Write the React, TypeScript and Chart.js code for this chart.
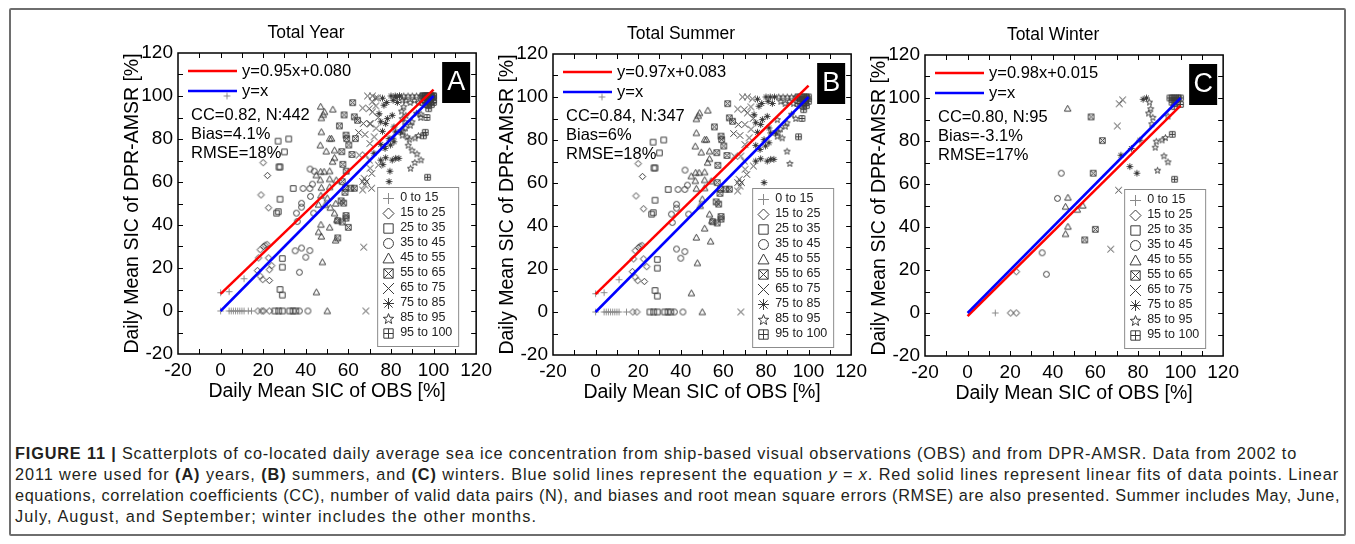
import React, { useEffect, useLayoutEffect, useRef } from "react";
import { Chart, registerables } from "chart.js";

Chart.register(...registerables);

type Pt = [number, number];

// ---------------- DATA ----------------
const categoryLabels = [
  "0 to 15", "15 to 25", "25 to 35", "35 to 45", "45 to 55",
  "55 to 65", "65 to 75", "75 to 85", "85 to 95", "95 to 100",
];
const markerKinds = [
  "plus", "diamond", "square", "circle", "triangle",
  "boxX", "cross", "asterisk", "star", "boxPlus",
];

// Summer (May–Sep) points, by OBS class
const summer0to15: Pt[] = [[0, 0], [4, 0], [5, 0], [6, 0], [7, 0], [8, 0], [9, 0], [10, 0], [11, 0], [14.5, 0], [0, 8.5], [4, 9], [11, 15], [3, 100]];
const summer15to25: Pt[] = [[20, 69], [22, 63], [19, 54], [22.5, 48], [18.6, 28.5], [20.2, 30], [20.9, 30.6], [21.8, 31], [22.5, 24.7], [17.8, 24.7], [17.3, 18.8], [18.6, 16.2], [19.8, 14.6], [22.9, 14.2], [24, 21.1], [17.5, 0], [19.4, 0]];
const summer25to35: Pt[] = [[27, 79], [32, 80], [30, 74], [27.4, 67], [27.9, 67], [34.1, 57], [27.9, 52], [26.3, 45.5], [27.1, 46.2], [29, 24.4], [29, 20.4], [27.9, 10], [29, 7.4], [25.5, 0], [27.3, 0], [29, 0], [32.5, 0], [34, 0], [35.3, 0]];
const summer35to45: Pt[] = [[42, 66], [38.7, 57], [41.9, 57], [43.1, 59], [38, 50.1], [38, 48.3], [35.6, 45.5], [43.7, 45.5], [36, 41.6], [38, 29.3], [41.9, 28.1], [40, 25], [37, 0], [41, 0]];
const summer45to55: Pt[] = [[48.2, 91.3], [47.3, 89.8], [48.8, 92.6], [52.7, 93.8], [47.3, 83.3], [51.2, 80.2], [52.1, 80.2], [46.8, 77.1], [53.5, 74.8], [49.6, 74.3], [53.5, 71.3], [52.6, 69.5], [44.9, 63.2], [47, 64.8], [48.6, 64.8], [51.2, 65.1], [46.8, 61], [51.2, 61.4], [54.3, 60.9], [47.3, 57.4], [51.2, 57.7], [50.1, 52.5], [49.1, 49.4], [53.5, 45.5], [54.6, 42.4], [51.2, 38.9], [47.3, 34.7], [54, 32.9], [47.8, 22.8], [45, 8.8], [50.1, 0]];
const summer55to65: Pt[] = [[62, 96.9], [62.8, 90.3], [64.3, 88.7], [55.8, 86.1], [58.9, 81.8], [59.2, 80.2], [60.2, 77.2], [56.9, 74.1], [61.7, 72.8], [57.4, 68.2], [57.1, 60.2], [58.6, 57.1], [58.4, 55.2], [61.2, 57.1], [62.8, 57.1], [56.6, 51.2], [57.8, 50.2], [58.9, 44.4], [58.9, 43.2], [57.1, 41.4], [55, 42]];
const summer65to75: Pt[] = [[69, 100], [71.3, 100], [73.6, 99.1], [66.7, 94.4], [69.8, 94.1], [72.9, 95.4], [71.3, 92.6], [67, 87.2], [70.1, 87.2], [64.8, 83], [67.8, 82.1], [72.1, 81], [70.1, 77.9], [65.1, 72.5], [68.2, 72.5], [69.8, 70.2], [71, 64], [67.4, 61.7], [66.7, 60.2], [67.8, 58.6], [66.7, 56.3], [70.2, 66.4], [74.1, 67.9], [73, 85], [74, 90], [68.5, 60.2], [68.2, 0]];
const summer75to85: Pt[] = [[75.2, 88], [77.5, 87.2], [74.4, 91.8], [76.7, 95.7], [76, 83.6], [78.3, 89.5], [80.6, 91], [81.4, 85.6], [79.1, 80.2], [75.2, 77.5], [77.2, 75.6], [79.8, 77.2], [75.2, 70.2], [77.5, 71.3], [80.6, 70.2], [82.2, 71], [83.7, 71], [79.1, 60.2], [82.2, 83.3], [84.5, 83.3], [81.4, 78.7], [80, 100], [82, 100], [84, 100], [81, 98], [83, 97], [78, 97], [76, 99]];
const summer85to95: Pt[] = [[85.3, 81.8], [87.6, 81], [86.8, 85.2], [89.1, 86.4], [89.9, 88], [85.7, 83.6], [85.3, 89.5], [89.9, 74.8], [91.2, 69.1], [86, 100], [88, 100], [90, 100], [92, 100], [94, 100], [87, 98], [89, 97], [91, 98], [93, 97], [92, 92], [94, 90]];
const summer95to100: Pt[] = [[95.3, 81.5], [96.9, 90], [97.7, 94.1], [98.4, 97.2], [99.2, 99.5], [95, 100], [96, 100], [97, 100], [98, 100], [99, 100], [100, 100], [96, 98], [98, 98], [100, 98], [97, 96], [99, 96], [95, 97]];

// Winter (other months) points, by OBS class
const winter0to15: Pt[] = [[13, 0]];
const winter15to25: Pt[] = [[20.2, 0], [22.9, 0], [22.9, 19.2]];
const winter25to35: Pt[] = [];
const winter35to45: Pt[] = [[44, 65], [42.2, 53.3], [35, 28], [37, 18]];
const winter45to55: Pt[] = [[47, 95.1], [47.1, 53.7], [46, 49.5], [47.1, 40.2], [46, 36.8], [54.1, 50], [51.5, 48.1]];
const winter55to65: Pt[] = [[58, 91.2], [63.3, 80.2], [59, 65], [60, 38.9], [55, 34]];
const winter65to75: Pt[] = [[71.2, 97.3], [72.8, 99.1], [70.3, 87], [70.9, 57.1], [67.2, 29.7]];
const winter75to85: Pt[] = [[82.4, 99.4], [84, 100], [72, 73.4], [76.9, 76.5], [80.9, 80.4], [76.2, 68.1], [79.5, 65]];
const winter85to95: Pt[] = [[85.4, 98.1], [86, 95], [85, 93], [87, 91], [86.5, 88], [91.3, 80.5], [88.6, 79.9], [92.9, 81.6], [88.1, 77.1], [92.2, 73.1], [94.1, 70.3], [89.2, 66.4], [94.1, 91.6]];
const winter95to100: Pt[] = [[96.1, 83.1], [97.2, 62.2], [95, 100], [96, 100], [97, 100], [98, 100], [99, 100], [100, 100], [96, 98], [98, 98], [100, 97], [97, 96]];

const summerByClass: Pt[][] = [summer0to15, summer15to25, summer25to35, summer35to45, summer45to55, summer55to65, summer65to75, summer75to85, summer85to95, summer95to100];
const winterByClass: Pt[][] = [winter0to15, winter15to25, winter25to35, winter35to45, winter45to55, winter55to65, winter65to75, winter75to85, winter85to95, winter95to100];
const yearByClass: Pt[][] = summerByClass.map((s, i) => [...s, ...winterByClass[i]]);

const panelData: Pt[][][] = [yearByClass, summerByClass, winterByClass];
const panelTitles = ["Total Year", "Total Summer", "Total Winter"];
const panelLetters = ["A", "B", "C"];
const fitSlopes = [0.95, 0.97, 0.98];
const fitIntercepts = [8.0, 8.3, -1.5];
const fitLabels = ["y=0.95x+0.080", "y=0.97x+0.083", "y=0.98x+0.015"];
const ccLabels = ["CC=0.82, N:442", "CC=0.84, N:347", "CC=0.80, N:95"];
const biasLabels = ["Bias=4.1%", "Bias=6%", "Bias=-3.1%"];
const rmseLabels = ["RMSE=18%", "RMSE=18%", "RMSE=17%"];
const axisMin = -20;
const axisMax = 120;
const axisStep = 20;
const minorStep = 10;
const xTitle = "Daily Mean SIC of OBS [%]";
const yTitle = "Daily Mean SIC of DPR-AMSR [%]";

// ---------------- LAYOUT ----------------
const FONT = "'Liberation Sans', Arial, Helvetica, sans-serif";
const PLOT_POS = [
  { left: 178, top: 53 },
  { left: 553, top: 54 },
  { left: 925, top: 55 },
];
const PLOT_SIZE = 301;
const Y_AXIS_W = 60;
const TOP_PAD = 43;
const RIGHT_PAD = 18;
const X_AXIS_H = 52;
const CANVAS_W = Y_AXIS_W + PLOT_SIZE + RIGHT_PAD;
const CANVAS_H = TOP_PAD + PLOT_SIZE + X_AXIS_H;

function makeMarker(kind: string, size: number, color: string, lw: number): HTMLCanvasElement {
  const pad = 2;
  const S = Math.ceil(size + pad * 2);
  const c = document.createElement("canvas");
  c.width = S;
  c.height = S;
  const g = c.getContext("2d")!;
  g.strokeStyle = color;
  g.lineWidth = lw;
  const h = size / 2;
  const cx = S / 2;
  const cy = S / 2;
  const sq = h * 0.85;
  g.beginPath();
  switch (kind) {
    case "plus":
      g.moveTo(cx - h, cy); g.lineTo(cx + h, cy);
      g.moveTo(cx, cy - h); g.lineTo(cx, cy + h);
      break;
    case "diamond":
      g.moveTo(cx, cy - h); g.lineTo(cx + h, cy); g.lineTo(cx, cy + h); g.lineTo(cx - h, cy); g.closePath();
      break;
    case "square":
      g.rect(cx - sq, cy - sq, sq * 2, sq * 2);
      break;
    case "circle":
      g.arc(cx, cy, h * 0.9, 0, Math.PI * 2);
      break;
    case "triangle":
      g.moveTo(cx, cy - h); g.lineTo(cx + h, cy + h * 0.8); g.lineTo(cx - h, cy + h * 0.8); g.closePath();
      break;
    case "boxX":
      g.rect(cx - sq, cy - sq, sq * 2, sq * 2);
      g.moveTo(cx - sq, cy - sq); g.lineTo(cx + sq, cy + sq);
      g.moveTo(cx + sq, cy - sq); g.lineTo(cx - sq, cy + sq);
      break;
    case "cross":
      g.moveTo(cx - h, cy - h); g.lineTo(cx + h, cy + h);
      g.moveTo(cx + h, cy - h); g.lineTo(cx - h, cy + h);
      break;
    case "asterisk": {
      const d = h * 0.75;
      g.moveTo(cx - h, cy); g.lineTo(cx + h, cy);
      g.moveTo(cx, cy - h); g.lineTo(cx, cy + h);
      g.moveTo(cx - d, cy - d); g.lineTo(cx + d, cy + d);
      g.moveTo(cx + d, cy - d); g.lineTo(cx - d, cy + d);
      break;
    }
    case "star": {
      for (let k = 0; k < 10; k++) {
        const r = k % 2 === 0 ? h : h * 0.42;
        const a = -Math.PI / 2 + (k * Math.PI) / 5;
        const px = cx + r * Math.cos(a);
        const py = cy + h * 0.1 + r * Math.sin(a);
        if (k === 0) g.moveTo(px, py); else g.lineTo(px, py);
      }
      g.closePath();
      break;
    }
    case "boxPlus":
      g.rect(cx - sq, cy - sq, sq * 2, sq * 2);
      g.moveTo(cx - sq, cy); g.lineTo(cx + sq, cy);
      g.moveTo(cx, cy - sq); g.lineTo(cx, cy + sq);
      break;
  }
  g.stroke();
  return c;
}

function markerColor(i: number) {
  return i === 0 ? "#8a8a8a" : "#3c3c3c";
}

function decoPlugin(idx: number, legendMarkers: HTMLCanvasElement[]) {
  return {
    id: "deco" + idx,
    afterDraw(chart: any) {
      const { ctx, chartArea: a } = chart;
      const xs = chart.scales.x;
      const ys = chart.scales.y;
      ctx.save();
      // frame
      ctx.strokeStyle = "#000";
      ctx.lineWidth = 1.5;
      ctx.strokeRect(a.left, a.top, a.right - a.left, a.bottom - a.top);
      // inward ticks
      ctx.lineWidth = 1;
      ctx.beginPath();
      for (let v = axisMin + minorStep; v < axisMax; v += minorStep) {
        const px = Math.round(xs.getPixelForValue(v)) + 0.5;
        ctx.moveTo(px, a.bottom); ctx.lineTo(px, a.bottom - 5);
        ctx.moveTo(px, a.top); ctx.lineTo(px, a.top + 5);
        const py = Math.round(ys.getPixelForValue(v)) + 0.5;
        ctx.moveTo(a.left, py); ctx.lineTo(a.left + 5, py);
        ctx.moveTo(a.right, py); ctx.lineTo(a.right - 5, py);
      }
      ctx.stroke();

      // title
      ctx.fillStyle = "#000";
      ctx.font = `17.5px ${FONT}`;
      ctx.textAlign = "center";
      ctx.textBaseline = "middle";
      ctx.fillText(panelTitles[idx], (a.left + a.right) / 2 - 21, a.top - 20);

      // fit legend
      ctx.lineWidth = 2.5;
      ctx.strokeStyle = "#ff0000";
      ctx.beginPath(); ctx.moveTo(a.left + 10, a.top + 18); ctx.lineTo(a.left + 59, a.top + 18); ctx.stroke();
      ctx.strokeStyle = "#0000ff";
      ctx.beginPath(); ctx.moveTo(a.left + 10, a.top + 38); ctx.lineTo(a.left + 59, a.top + 38); ctx.stroke();
      ctx.font = `16.5px ${FONT}`;
      ctx.textAlign = "left";
      ctx.fillStyle = "#000";
      ctx.fillText(fitLabels[idx], a.left + 64, a.top + 18);
      ctx.fillText("y=x", a.left + 64, a.top + 38);
      ctx.fillText(ccLabels[idx], a.left + 13, a.top + 62);
      ctx.fillText(biasLabels[idx], a.left + 13, a.top + 81);
      ctx.fillText(rmseLabels[idx], a.left + 13, a.top + 100);

      // panel letter
      ctx.fillStyle = "#000";
      ctx.fillRect(a.right - 34, a.top + 9, 28, 41);
      ctx.fillStyle = "#fff";
      ctx.font = `27px ${FONT}`;
      ctx.textAlign = "center";
      ctx.fillText(panelLetters[idx], a.right - 20, a.top + 30);

      // class legend box
      const bl = a.right - 99;
      const bt = a.bottom - 167;
      ctx.fillStyle = "#fff";
      ctx.fillRect(bl, bt, 81, 159);
      ctx.strokeStyle = "#8c8c8c";
      ctx.lineWidth = 1;
      ctx.strokeRect(bl + 0.5, bt + 0.5, 81, 159);
      ctx.font = `12.5px ${FONT}`;
      ctx.textAlign = "left";
      ctx.fillStyle = "#222";
      categoryLabels.forEach((lab, i) => {
        const y = bt + 11 + i * 15;
        const m = legendMarkers[i];
        ctx.drawImage(m, Math.round(bl + 11 - m.width / 2), Math.round(y - m.height / 2));
        ctx.fillText(lab, bl + 23, y);
      });
      ctx.restore();
    },
  };
}

function Panel({ idx }: { idx: number }) {
  const ref = useRef<HTMLCanvasElement | null>(null);
  useEffect(() => {
    if (!ref.current) return;
    const plotMarkers = markerKinds.map((k, i) => makeMarker(k, 6.5, markerColor(i), 1));
    const legendMarkers = markerKinds.map((k, i) => makeMarker(k, 11, markerColor(i), 1));
    const slope = fitSlopes[idx];
    const icpt = fitIntercepts[idx];
    const lineDs = (data: { x: number; y: number }[], color: string) => ({
      type: "scatter" as const,
      data,
      showLine: true,
      borderColor: color,
      backgroundColor: color,
      borderWidth: 2.5,
      pointRadius: 0,
      pointHoverRadius: 0,
    });
    const datasets: any[] = [
      lineDs([{ x: 0, y: 0 }, { x: 100, y: 100 }], "#0000ff"),
      lineDs([{ x: 0, y: icpt }, { x: 100, y: slope * 100 + icpt }], "#ff0000"),
      ...panelData[idx].map((pts, i) => ({
        type: "scatter" as const,
        label: categoryLabels[i],
        data: pts.map(([x, y]) => ({ x, y })),
        pointStyle: plotMarkers[i],
        pointRadius: 3,
        pointHoverRadius: 3,
        showLine: false,
      })),
    ];
    const tickFont = { family: FONT, size: 19 };
    const titleFont = { family: FONT, size: 19.5 };
    const chart = new Chart(ref.current, {
      type: "scatter",
      data: { datasets },
      plugins: [decoPlugin(idx, legendMarkers)],
      options: {
        responsive: false,
        animation: false,
        devicePixelRatio: 1,
        events: [],
        layout: { padding: { left: 0, top: TOP_PAD, right: RIGHT_PAD, bottom: 0 } },
        plugins: { legend: { display: false }, tooltip: { enabled: false }, title: { display: false } },
        scales: {
          x: {
            type: "linear",
            min: axisMin,
            max: axisMax,
            afterFit: (s: any) => { s.height = X_AXIS_H; },
            grid: { display: false, drawTicks: false },
            border: { display: false },
            ticks: { stepSize: axisStep, color: "#000", font: tickFont, padding: 5, maxRotation: 0, autoSkip: false },
            title: { display: true, text: xTitle, color: "#000", font: titleFont, padding: { top: 0, bottom: 3 } },
          },
          y: {
            type: "linear",
            min: axisMin,
            max: axisMax,
            afterFit: (s: any) => { s.width = Y_AXIS_W; },
            grid: { display: false, drawTicks: false },
            border: { display: false },
            ticks: { stepSize: axisStep, color: "#000", font: tickFont, padding: 5, autoSkip: false },
            title: { display: true, text: yTitle, color: "#000", font: titleFont, padding: { top: 3, bottom: 0 } },
          },
        },
      } as any,
    });
    return () => chart.destroy();
  }, [idx]);
  const pos = PLOT_POS[idx];
  return (
    <canvas
      ref={ref}
      width={CANVAS_W}
      height={CANVAS_H}
      style={{
        position: "absolute",
        left: pos.left - Y_AXIS_W,
        top: pos.top - TOP_PAD,
        width: CANVAS_W,
        height: CANVAS_H,
      }}
    />
  );
}

const captionRightEdges = [1297, 1339, 1340, 537];

function Caption() {
  const refs = useRef<(HTMLSpanElement | null)[]>([]);
  useLayoutEffect(() => {
    refs.current.forEach((el, i) => {
      if (!el) return;
      el.style.letterSpacing = "0px";
      const w = el.getBoundingClientRect().width;
      const n = (el.textContent || "").length;
      const ls = (captionRightEdges[i] - 15 - w) / n;
      el.style.letterSpacing = `${ls.toFixed(3)}px`;
    });
  }, []);
  const lineStyle: React.CSSProperties = { display: "inline-block", whiteSpace: "nowrap" };
  return (
    <div
      style={{
        position: "absolute",
        left: 15,
        top: 442.5,
        fontFamily: FONT,
        fontSize: 16.3,
        lineHeight: "21.2px",
        color: "#231f20",
      }}
    >
      <div>
        <span ref={(e) => { refs.current[0] = e; }} style={lineStyle}>
          <b>FIGURE 11 |</b> Scatterplots of co-located daily average sea ice concentration from ship-based visual observations (OBS) and from DPR-AMSR. Data from 2002 to
        </span>
      </div>
      <div>
        <span ref={(e) => { refs.current[1] = e; }} style={lineStyle}>
          2011 were used for <b>(A)</b> years, <b>(B)</b> summers, and <b>(C)</b> winters. Blue solid lines represent the equation <i>y</i> = <i>x</i>. Red solid lines represent linear fits of data points. Linear
        </span>
      </div>
      <div>
        <span ref={(e) => { refs.current[2] = e; }} style={lineStyle}>
          equations, correlation coefficients (CC), number of valid data pairs (N), and biases and root mean square errors (RMSE) are also presented. Summer includes May, June,
        </span>
      </div>
      <div>
        <span ref={(e) => { refs.current[3] = e; }} style={lineStyle}>
          July, August, and September; winter includes the other months.
        </span>
      </div>
    </div>
  );
}

export default function App() {
  return (
    <div
      style={{
        position: "absolute",
        left: 0,
        top: 0,
        width: 1355,
        height: 544,
        background: "#fff",
        overflow: "hidden",
      }}
    >
      <div
        style={{
          position: "absolute",
          left: 9,
          top: 8,
          width: 1337,
          height: 528,
          border: "2px solid #6e6e6e",
          borderRadius: 2,
          boxSizing: "border-box",
        }}
      />
      <Panel idx={0} />
      <Panel idx={1} />
      <Panel idx={2} />
      <Caption />
    </div>
  );
}
